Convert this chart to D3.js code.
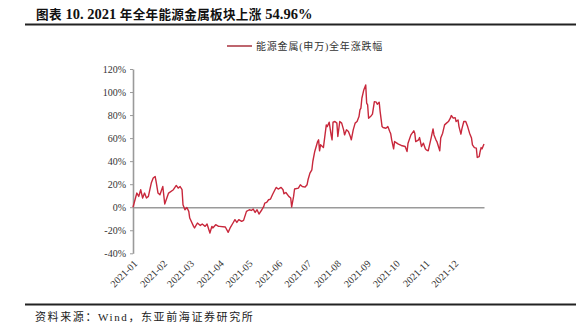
<!DOCTYPE html>
<html><head><meta charset="utf-8">
<script src="https://cdn.jsdelivr.net/npm/d3@7"></script>
<style>
html,body{margin:0;padding:0;background:#fff;}
svg{display:block;}
</style>
</head><body>
<svg id="c" width="581" height="329"></svg>
<script>
const titleParts = [["图表",true],[" 10. 2021 ",false],["年全年能源金属板块上涨",true],[" 54.96%",false]];
const legendLabel = "能源金属(申万)全年涨跌幅";
const sourceText = "资料来源：Wind，东亚前海证券研究所";
const monthLabels = ["2021-01","2021-02","2021-03","2021-04","2021-05","2021-06","2021-07","2021-08","2021-09","2021-10","2021-11","2021-12"];
const yTicks = [-40,-20,0,20,40,60,80,100,120];
const dates = ["2020-12-31","2021-01-04","2021-01-06","2021-01-08","2021-01-10","2021-01-12","2021-01-14","2021-01-16","2021-01-19","2021-01-21","2021-01-23","2021-01-24","2021-01-26","2021-01-28","2021-01-31","2021-02-02","2021-02-06","2021-02-11","2021-02-14","2021-02-16","2021-02-18","2021-02-20","2021-02-21","2021-02-23","2021-02-25","2021-02-27","2021-02-28","2021-03-04","2021-03-05","2021-03-08","2021-03-11","2021-03-13","2021-03-16","2021-03-18","2021-03-21","2021-03-23","2021-03-24","2021-03-27","2021-03-30","2021-03-31","2021-04-06","2021-04-09","2021-04-11","2021-04-14","2021-04-16","2021-04-18","2021-04-20","2021-04-23","2021-04-25","2021-04-28","2021-05-01","2021-05-03","2021-05-05","2021-05-07","2021-05-09","2021-05-11","2021-05-14","2021-05-16","2021-05-17","2021-05-19","2021-05-21","2021-05-23","2021-05-25","2021-05-28","2021-05-29","2021-05-31","2021-06-03","2021-06-05","2021-06-06","2021-06-08","2021-06-11","2021-06-13","2021-06-14","2021-06-16","2021-06-17","2021-06-21","2021-06-23","2021-06-25","2021-06-28","2021-06-30","2021-07-01","2021-07-03","2021-07-05","2021-07-06","2021-07-08","2021-07-11","2021-07-12","2021-07-13","2021-07-14","2021-07-17","2021-07-20","2021-07-21","2021-07-23","2021-07-25","2021-07-26","2021-07-27","2021-07-29","2021-07-31","2021-08-01","2021-08-03","2021-08-05","2021-08-07","2021-08-08","2021-08-10","2021-08-12","2021-08-14","2021-08-15","2021-08-17","2021-08-19","2021-08-21","2021-08-23","2021-08-24","2021-08-25","2021-08-26","2021-08-28","2021-08-30","2021-08-31","2021-09-01","2021-09-02","2021-09-04","2021-09-06","2021-09-08","2021-09-10","2021-09-11","2021-09-13","2021-09-14","2021-09-16","2021-09-17","2021-09-20","2021-09-22","2021-09-24","2021-09-25","2021-09-26","2021-09-28","2021-09-29","2021-10-03","2021-10-06","2021-10-10","2021-10-12","2021-10-13","2021-10-16","2021-10-19","2021-10-20","2021-10-21","2021-10-24","2021-10-25","2021-10-27","2021-10-29","2021-10-31","2021-11-01","2021-11-03","2021-11-06","2021-11-08","2021-11-09","2021-11-11","2021-11-12","2021-11-15","2021-11-16","2021-11-18","2021-11-20","2021-11-22","2021-11-24","2021-11-26","2021-11-27","2021-11-29","2021-12-01","2021-12-02","2021-12-04","2021-12-05","2021-12-07","2021-12-08","2021-12-10","2021-12-12","2021-12-14","2021-12-16","2021-12-18","2021-12-19","2021-12-21","2021-12-23","2021-12-24","2021-12-26","2021-12-27","2021-12-28","2021-12-29","2021-12-31"];
const values = [0,12.3,9.4,15.2,8.0,12.3,8.0,9.4,21.0,25.3,26.7,22.4,12.3,10.8,18.0,2.8,12.3,15.2,18.9,16.6,18.0,15.2,2.2,-2.2,-0.2,-3.6,-9.4,-16.6,-18.0,-13.7,-15.8,-14.6,-16.6,-14.6,-22.4,-16.6,-18.0,-15.2,-16.6,-16.6,-17.2,-21.8,-18.0,-13.7,-10.8,-13.2,-10.8,-12.3,-11.4,-3.6,-2.2,-2.8,-1.6,-4.5,-2.2,-5.9,-2.2,0.7,3.6,4.2,6.5,7.1,10.8,15.8,17.2,15.8,17.2,15.2,11.7,12.8,9.4,8.0,0.2,9.4,15.8,16.6,19.5,18.0,17.5,19.5,23.8,29.6,32.5,39.7,48.4,57.0,58.5,49.0,54.2,51.8,71.5,70.0,73.8,62.8,58.5,73.8,74.4,73.0,61.4,74.4,73.0,67.2,62.8,67.2,65.7,61.4,58.5,67.2,73.0,74.4,78.7,84.5,86.0,94.6,101.8,106.2,90.3,88.8,77.3,78.7,80.8,91.7,91.2,89.4,91.2,83.0,70.0,69.2,68.6,70.0,65.7,63.7,58.5,50.7,57.0,54.8,53.6,52.7,48.4,55.6,62.8,66.3,64.3,57.0,58.5,60.5,52.7,55.6,50.7,49.8,49.0,60.0,68.0,62.8,58.5,57.0,49.0,60.0,64.3,71.5,73.0,74.4,77.3,79.6,77.3,77.8,74.4,75.8,70.0,63.4,68.0,74.4,74.4,70.0,64.3,60.0,54.2,51.8,51.3,43.2,44.0,48.4,51.8,50.7,54.96];

const parse = d3.timeParse("%Y-%m-%d");
const data = dates.map((d,i)=>({date:parse(d), v:values[i]}));
const svg = d3.select("#c");
const serif = "'Liberation Serif','Times New Roman','Noto Sans CJK SC',serif";
const cjk = "'Liberation Serif','Noto Sans CJK SC',serif";
const lineColor = "#c8283c";

// title
const title = svg.append("text").attr("x",36).attr("y",19)
  .attr("font-family",cjk).attr("font-weight","bold").attr("fill","#111");
title.selectAll("tspan").data(titleParts).join("tspan")
  .attr("font-size",d=>d[1]?12.6:14.5)
  .attr("letter-spacing",d=>d[1]?0.3:0)
  .attr("xml:space","preserve")
  .text(d=>d[0]);
svg.append("line").attr("x1",25).attr("x2",576).attr("y1",24.5).attr("y2",24.5)
  .attr("stroke","#222").attr("stroke-width",1.8);
svg.append("line").attr("x1",25).attr("x2",576).attr("y1",304.5).attr("y2",304.5)
  .attr("stroke","#222").attr("stroke-width",1.8);
svg.append("text").attr("x",35).attr("y",321)
  .attr("font-family",cjk).attr("font-size",11).attr("letter-spacing",1.6)
  .attr("fill","#222").text(sourceText);

// scales
const x = d3.scaleTime().domain([parse("2020-12-31"), parse("2021-12-31")]).range([133,484]);
const y = d3.scaleLinear().domain([-40,120]).range([253.3,69]);

// legend
svg.append("line").attr("x1",227).attr("x2",252).attr("y1",46).attr("y2",46)
  .attr("stroke","#a8323e").attr("stroke-width",1.5);
svg.append("text").attr("x",256).attr("y",49.5)
  .attr("font-family",cjk).attr("font-size",10).attr("fill","#333")
  .attr("letter-spacing",0.8).text(legendLabel);

// y axis
const yAxis = d3.axisLeft(y).tickValues(yTicks).tickFormat(d=>d+"%").tickSize(3).tickSizeOuter(0);
const gy = svg.append("g").attr("transform","translate(133,0)").call(yAxis);
gy.select(".domain").attr("stroke","#9a9a9a").attr("stroke-width",1.6);
gy.selectAll(".tick line").attr("stroke","#9a9a9a").attr("stroke-width",1);
gy.selectAll(".tick text").attr("font-family",serif).attr("font-size",10).attr("fill","#333").attr("x",-7);

// zero line (x axis)
const xAxis = d3.axisBottom(x).tickValues([]).tickSizeOuter(0);
const gx = svg.append("g").attr("transform",`translate(0,${y(0)})`).call(xAxis);
gx.select(".domain").attr("stroke","#9a9a9a").attr("stroke-width",1.6);

// month labels at bottom
const monthDates = monthLabels.map(m=>parse(m+"-01"));
svg.append("g").selectAll("text").data(monthDates).join("text")
  .attr("transform",(d)=>`translate(${x(d)+4},${y(-40)+11}) rotate(-45)`)
  .attr("text-anchor","end")
  .attr("font-family",serif).attr("font-size",10).attr("fill","#333")
  .text((d,i)=>monthLabels[i]);

// line
const line = d3.line().x(d=>x(d.date)).y(d=>y(d.v));
svg.append("path").datum(data).attr("d",line)
  .attr("fill","none").attr("stroke",lineColor).attr("stroke-width",1.4)
  .attr("stroke-linejoin","round");
</script>
</body></html>
